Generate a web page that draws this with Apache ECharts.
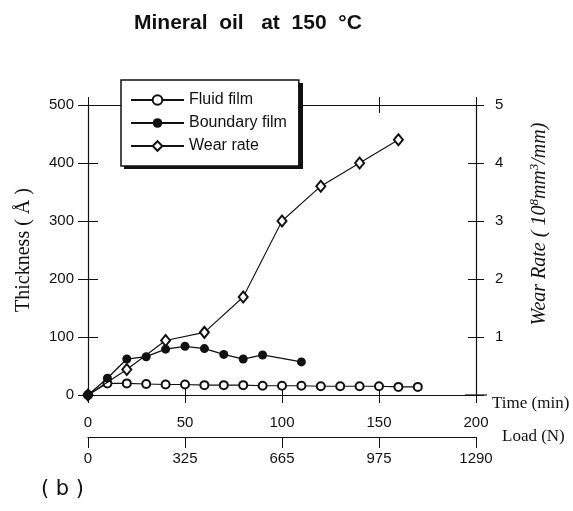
<!DOCTYPE html>
<html>
<head>
<meta charset="utf-8">
<script src="https://cdn.jsdelivr.net/npm/echarts@6/dist/echarts.min.js"></script>
<style>
  html, body { margin: 0; padding: 0; background: #fff; }
  #chart { width: 573px; height: 511px; }
</style>
</head>
<body>
<div id="chart"></div>
<script>
// Time axis ticks (min) and the matching load values (N)
const timeTicks = [0, 50, 100, 150, 200];
const loadTicks = [0, 325, 665, 975, 1290];

// Fluid film thickness (Å)
const fluidTime = [0, 10, 20, 30, 40, 50, 60, 70, 80, 90, 100, 110, 120, 130, 140, 150, 160, 170];
const fluidFilm = [0, 20, 20, 19, 18, 18, 17, 17, 17, 16, 16, 16, 15, 15, 15, 15, 14, 14];

// Boundary film thickness (Å)
const boundaryTime = [0, 10, 20, 30, 40, 50, 60, 70, 80, 90, 110];
const boundaryFilm = [0, 29, 62, 66, 79, 84, 80, 70, 62, 69, 57];

// Wear rate (10^8 mm^3/mm)
const wearTime = [0, 20, 40, 60, 80, 100, 120, 140, 160];
const wearRate = [0, 0.44, 0.94, 1.08, 1.69, 3.0, 3.6, 4.0, 4.4];

const pairs = (xs, ys) => xs.map((x, i) => [x, ys[i]]);

const SANS = '"Liberation Sans", Arial, sans-serif';
const SERIF = '"Liberation Serif", "Times New Roman", serif';
const INK = '#111';

const chart = echarts.init(document.getElementById('chart'), null, { renderer: 'canvas' });

chart.setOption({
  animation: false,
  backgroundColor: '#fff',
  title: [
    {
      text: 'Mineral  oil   at  150  °C',
      left: 129, top: 8,
      textStyle: { fontFamily: SANS, fontWeight: 'bold', fontSize: 21, color: INK }
    },
    {
      text: '( b )',
      left: 36, top: 474,
      textStyle: { fontFamily: '"DejaVu Sans", sans-serif', fontWeight: 'normal', fontSize: 21, color: INK }
    }
  ],
  // drop shadow behind the legend box
  graphic: [
    { type: 'rect', left: 124, top: 83, shape: { width: 179, height: 86 },
      style: { fill: INK }, z: 3, silent: true }
  ],
  grid: { left: 88, top: 105, width: 388, height: 290, containLabel: false },
  legend: {
    orient: 'vertical',
    left: 121, top: 80,
    padding: [12, 12, 12, 9],
    itemGap: 7,
    itemWidth: 53,
    itemHeight: 12,
    backgroundColor: '#fff',
    borderColor: INK,
    borderWidth: 1.5,
    z: 6,
    textStyle: { fontFamily: SANS, fontSize: 16, color: INK },
    data: ['Fluid film', 'Boundary film', 'Wear rate']
  },
  xAxis: [
    { // time, bottom, labels + outward ticks
      type: 'value', position: 'bottom', gridIndex: 0,
      min: timeTicks[0], max: timeTicks[timeTicks.length - 1], interval: 50,
      axisLine: { show: true, onZero: false, lineStyle: { color: INK, width: 1.2 },
                  symbol: ['none', 'rect'], symbolSize: [1.2, 22], symbolOffset: [0, 0] },
      axisTick: { show: true, inside: false, length: 8, lineStyle: { color: INK, width: 1 } },
      axisLabel: { margin: 20, fontFamily: SANS, fontSize: 15, color: INK },
      splitLine: { show: false },
      name: 'Time (min)', nameLocation: 'end', nameGap: 16,
      nameTextStyle: { fontFamily: SERIF, fontSize: 17, color: INK, align: 'left', verticalAlign: 'top' }
    },
    { // time, bottom, inward ticks
      type: 'value', position: 'bottom', offset: 0,
      min: 0, max: 200, interval: 50,
      axisLine: { show: false, onZero: false },
      axisTick: { show: true, inside: true, length: 8, lineStyle: { color: INK, width: 1 } },
      axisLabel: { show: false }, splitLine: { show: false }
    },
    { // top frame, inward ticks
      type: 'value', position: 'top',
      min: 0, max: 200, interval: 50,
      axisLine: { show: true, onZero: false, lineStyle: { color: INK, width: 1.2 } },
      axisTick: { show: true, inside: true, length: 8, lineStyle: { color: INK, width: 1 } },
      axisLabel: { show: false }, splitLine: { show: false }
    },
    { // top frame, outward ticks
      type: 'value', position: 'top',
      min: 0, max: 200, interval: 50,
      axisLine: { show: false, onZero: false },
      axisTick: { show: true, inside: false, length: 8, lineStyle: { color: INK, width: 1 } },
      axisLabel: { show: false }, splitLine: { show: false }
    },
    { // load scale below the time scale
      type: 'value', position: 'bottom', offset: 42,
      min: 0, max: 200, interval: 50,
      axisLine: { show: true, onZero: false, lineStyle: { color: INK, width: 1.2 } },
      axisTick: { show: true, inside: false, length: 11, lineStyle: { color: INK, width: 1 } },
      axisLabel: {
        margin: 14, fontFamily: SANS, fontSize: 15, color: INK,
        formatter: v => String(loadTicks[timeTicks.indexOf(v)])
      },
      splitLine: { show: false },
      name: 'Load (N)', nameLocation: 'end', nameGap: 26,
      nameTextStyle: { fontFamily: SERIF, fontSize: 17, color: INK, align: 'left', verticalAlign: 'middle', padding: [0, 0, 4, 0] }
    }
  ],
  yAxis: [
    { // thickness, left, labels + outward ticks
      type: 'value', position: 'left',
      min: 0, max: 500, interval: 100,
      axisLine: { show: true, onZero: false, lineStyle: { color: INK, width: 1.2 } },
      axisTick: { show: true, inside: false, length: 10, lineStyle: { color: INK, width: 1 } },
      axisLabel: { margin: 14, fontFamily: SANS, fontSize: 15, color: INK },
      splitLine: { show: false },
      name: 'Thickness ( Å )', nameLocation: 'middle', nameGap: 54, nameRotate: 90,
      nameTextStyle: { fontFamily: SERIF, fontSize: 20, color: INK }
    },
    { // thickness, left, inward ticks
      type: 'value', position: 'left',
      min: 0, max: 500, interval: 100,
      axisLine: { show: false, onZero: false },
      axisTick: { show: true, inside: true, length: 10, lineStyle: { color: INK, width: 1 } },
      axisLabel: { show: false }, splitLine: { show: false }
    },
    { // wear rate, right, labels + outward ticks
      type: 'value', position: 'right',
      min: 0, max: 5, interval: 1,
      axisLine: { show: true, onZero: false, lineStyle: { color: INK, width: 1.2 } },
      axisTick: { show: true, inside: false, length: 8, lineStyle: { color: INK, width: 1 } },
      axisLabel: { margin: 19, fontFamily: SANS, fontSize: 15, color: INK,
                   formatter: v => (v === 0 ? '' : String(v)) },
      splitLine: { show: false },
      name: '{t|Wear Rate ( 10}{s|8}{t|mm}{s|3}{t|/mm)}',
      nameLocation: 'middle', nameGap: 52, nameRotate: 90,
      nameTextStyle: {
        padding: [0, 0, 0, 52],
        rich: {
          t: { fontFamily: SERIF, fontStyle: 'italic', fontSize: 20, lineHeight: 24, color: INK },
          s: { fontFamily: SERIF, fontStyle: 'italic', fontSize: 13, lineHeight: 13, verticalAlign: 'top', color: INK }
        }
      }
    },
    { // wear rate, right, inward ticks
      type: 'value', position: 'right',
      min: 0, max: 5, interval: 1,
      axisLine: { show: false, onZero: false },
      axisTick: { show: true, inside: true, length: 8, lineStyle: { color: INK, width: 1 } },
      axisLabel: { show: false }, splitLine: { show: false }
    }
  ],
  series: [
    {
      name: 'Fluid film', type: 'line', xAxisIndex: 0, yAxisIndex: 0,
      data: pairs(fluidTime, fluidFilm),
      symbol: 'emptyCircle', symbolSize: 8, showAllSymbol: true,
      lineStyle: { color: INK, width: 1.1 },
      itemStyle: { color: INK, borderColor: INK, borderWidth: 1.1 },
      z: 3
    },
    {
      name: 'Wear rate', type: 'line', xAxisIndex: 0, yAxisIndex: 2,
      data: pairs(wearTime, wearRate),
      symbol: 'emptyDiamond', symbolSize: [9, 11], showAllSymbol: true,
      lineStyle: { color: INK, width: 1.1 },
      itemStyle: { color: INK, borderColor: INK, borderWidth: 1.1 },
      z: 4
    },
    {
      name: 'Boundary film', type: 'line', xAxisIndex: 0, yAxisIndex: 0,
      data: pairs(boundaryTime, boundaryFilm),
      symbol: 'circle', symbolSize: 9, showAllSymbol: true,
      lineStyle: { color: INK, width: 1.3 },
      itemStyle: { color: INK },
      z: 5
    }
  ]
});
</script>
</body>
</html>
